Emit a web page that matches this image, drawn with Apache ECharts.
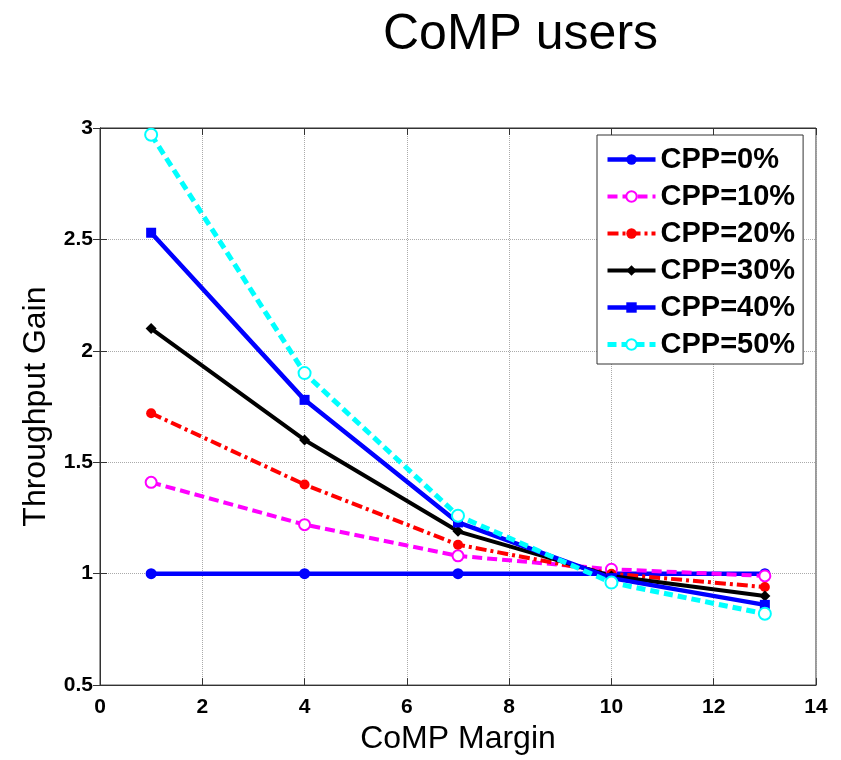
<!DOCTYPE html>
<html>
<head>
<meta charset="utf-8">
<script src="https://cdn.jsdelivr.net/npm/echarts@6/dist/echarts.min.js"></script>
<style>html,body{margin:0;padding:0;background:#fff}#c{width:841px;height:760px}</style>
</head>
<body>
<div id="c"></div>
<script>
var margins = [1, 4, 7, 10, 13];
var seriesNames = ['CPP=0%', 'CPP=10%', 'CPP=20%', 'CPP=30%', 'CPP=40%', 'CPP=50%'];
var cpp0  = [1.00, 1.00, 1.00, 1.00, 1.00];
var cpp10 = [1.41, 1.22, 1.08, 1.02, 0.99];
var cpp20 = [1.72, 1.40, 1.13, 1.00, 0.94];
var cpp30 = [2.10, 1.60, 1.19, 0.99, 0.90];
var cpp40 = [2.53, 1.78, 1.23, 0.98, 0.86];
var cpp50 = [2.97, 1.90, 1.26, 0.96, 0.82];
var xTicks = [0, 2, 4, 6, 8, 10, 12, 14];
var yTicks = [0.5, 1, 1.5, 2, 2.5, 3];

function pts(vals) { return margins.map(function (m, i) { return [m, vals[i]]; }); }

var styles = [
  { color: '#0000ff', width: 4.5, type: 'solid', symbol: 'circle', size: 11, empty: false },
  { color: '#ff00ff', width: 4, type: [10, 5], symbol: 'emptyCircle', size: 11, empty: true },
  { color: '#ff0000', width: 4, type: [11, 4, 3, 4], symbol: 'circle', size: 10, empty: false },
  { color: '#000000', width: 4, type: 'solid', symbol: 'diamond', size: 11, empty: false },
  { color: '#0000ff', width: 4.5, type: 'solid', symbol: 'rect', size: 10, empty: false },
  { color: '#00ffff', width: 5, type: [9, 5], symbol: 'emptyCircle', size: 12, empty: true }
];
var allVals = [cpp0, cpp10, cpp20, cpp30, cpp40, cpp50];

function itemStyleOf(s) {
  return s.empty ? { color: s.color, borderColor: s.color, borderWidth: 3.5 } : { color: s.color, borderColor: s.color, borderWidth: 0 };
}

var series = allVals.map(function (v, i) {
  var s = styles[i];
  return {
    name: seriesNames[i],
    type: 'line',
    data: pts(v),
    symbol: s.symbol,
    symbolSize: s.size,
    showAllSymbol: true,
    lineStyle: { color: s.color, width: s.width, type: s.type },
    itemStyle: itemStyleOf(s),
    emphasis: { disabled: true },
    animation: false
  };
});

var legendData = seriesNames.map(function (n, i) {
  var s = styles[i];
  return {
    name: n,
    lineStyle: { color: s.color, width: s.width, type: s.type },
    itemStyle: itemStyleOf(s)
  };
});

var chart = echarts.init(document.getElementById('c'));
var labelFont = { color: '#000', fontFamily: 'Liberation Sans, Arial', fontWeight: 'bold', fontSize: 21 };
chart.setOption({
  backgroundColor: '#ffffff',
  animation: false,
  title: {
    text: 'CoMP users',
    left: 383, top: 10, padding: 0,
    textStyle: { fontFamily: 'Liberation Sans, Arial', fontWeight: 'normal', fontSize: 50, color: '#000' }
  },
  grid: { left: 100, right: 25, top: 128, bottom: 70, show: true, borderColor: '#333', borderWidth: 1, backgroundColor: 'transparent' },
  legend: {
    orient: 'vertical', left: 597, top: 135,
    padding: [10, 8, 5, 8],
    itemWidth: 48, itemHeight: 13, itemGap: 8,
    backgroundColor: '#fff', borderColor: '#333', borderWidth: 1, borderRadius: 0,
    data: legendData,
    textStyle: { color: '#000', fontFamily: 'Liberation Sans, Arial', fontWeight: 'bold', fontSize: 29, lineHeight: 29 }
  },
  xAxis: [{
    type: 'value', min: xTicks[0], max: xTicks[xTicks.length - 1], interval: 2,
    name: 'CoMP Margin', nameLocation: 'middle', nameGap: 36,
    nameTextStyle: { fontFamily: 'Liberation Sans, Arial', fontSize: 32, color: '#000' },
    axisLine: { show: true, lineStyle: { color: '#333', width: 1 } },
    axisTick: { show: true, inside: true, length: 7, lineStyle: { color: '#333' } },
    axisLabel: Object.assign({ margin: 12 }, labelFont),
    splitLine: { show: true, lineStyle: { color: '#aaa', type: 'dotted', width: 1 } }
  }, {
    type: 'value', position: 'top', min: 0, max: 14, interval: 2,
    axisLine: { show: true, lineStyle: { color: '#333', width: 1 } },
    axisTick: { show: true, inside: true, length: 7, lineStyle: { color: '#333' } },
    axisLabel: { show: false }, splitLine: { show: false }
  }],
  yAxis: [{
    type: 'value', min: yTicks[0], max: yTicks[yTicks.length - 1], interval: 0.5,
    name: 'Throughput Gain', nameLocation: 'middle', nameGap: 48,
    nameTextStyle: { fontFamily: 'Liberation Sans, Arial', fontSize: 32, color: '#000' },
    axisLine: { show: true, lineStyle: { color: '#333', width: 1 } },
    axisTick: { show: true, inside: true, length: 7, lineStyle: { color: '#333' } },
    axisLabel: Object.assign({ margin: 7 }, labelFont),
    splitLine: { show: true, lineStyle: { color: '#aaa', type: 'dotted', width: 1 } }
  }, {
    type: 'value', position: 'right', min: 0.5, max: 3, interval: 0.5,
    axisLine: { show: true, lineStyle: { color: '#333', width: 1 } },
    axisTick: { show: true, inside: true, length: 7, lineStyle: { color: '#333' } },
    axisLabel: { show: false }, splitLine: { show: false }
  }],
  series: series
});
</script>
</body>
</html>
